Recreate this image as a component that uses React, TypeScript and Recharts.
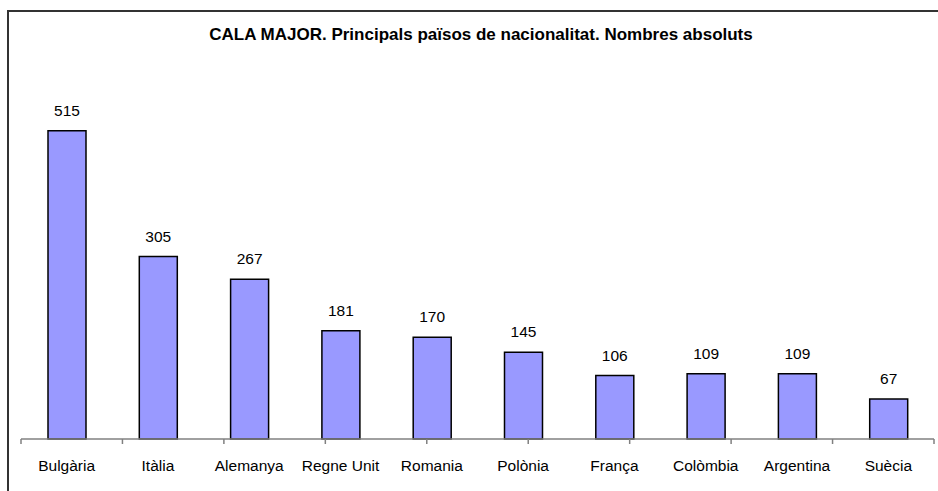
import React from "react";
import { BarChart, Bar, XAxis, YAxis, LabelList } from "recharts";

const categories = ["Bulgària", "Itàlia", "Alemanya", "Regne Unit", "Romania", "Polònia", "França", "Colòmbia", "Argentina", "Suècia"];
const values = [515, 305, 267, 181, 170, 145, 106, 109, 109, 67];
const title = "CALA MAJOR. Principals països de nacionalitat. Nombres absoluts";
const boundaryTicks = [0, 1, 2, 3, 4, 5, 6, 7, 8, 9, 10];

const data = categories.map((c, i) => ({ name: c, value: values[i] }));

const FONT = "'Liberation Sans', Arial, sans-serif";

const EmptyTick = () => <g />;

export default function App() {
  return (
    <div style={{ position: "absolute", left: 0, top: 0, width: 938, height: 491, overflow: "hidden", background: "#fff", fontFamily: FONT }}>
      <div style={{ position: "absolute", left: 7, top: 10, width: 960, height: 520, border: "2px solid #333", boxSizing: "border-box" }} />
      <div style={{ position: "absolute", left: 0, top: 25, width: 962, textAlign: "center", fontWeight: "bold", fontSize: 17, color: "#000" }}>{title}</div>
      <div style={{ position: "absolute", left: 0, top: 0 }}>
        <BarChart width={938} height={491} data={data} margin={{ top: 80, right: 4, bottom: 50, left: 21 }}>
          <XAxis
            xAxisId="bnd"
            type="number"
            domain={[0, 10]}
            ticks={boundaryTicks}
            tick={EmptyTick}
            interval={0}
            axisLine={{ stroke: "#808080", strokeWidth: 1.5 }}
            tickLine={{ stroke: "#808080", strokeWidth: 1.5 }}
            tickSize={5}
            height={1}
            allowDataOverflow
          />
          <XAxis
            dataKey="name"
            xAxisId="cat"
            axisLine={false}
            tickLine={false}
            tickSize={0}
            tickMargin={20}
            height={1}
            interval={0}
            tick={{ fontSize: 15.5, fill: "#000", fontFamily: FONT }}
          />
          <YAxis hide domain={[0, 600]} />
          <Bar dataKey="value" xAxisId="cat" fill="#9999FF" stroke="#000" strokeWidth={1.5} barSize={38} isAnimationActive={false}>
            <LabelList dataKey="value" position="top" offset={15} style={{ fontSize: 15.5, fill: "#000", fontFamily: FONT }} />
          </Bar>
        </BarChart>
      </div>
    </div>
  );
}
